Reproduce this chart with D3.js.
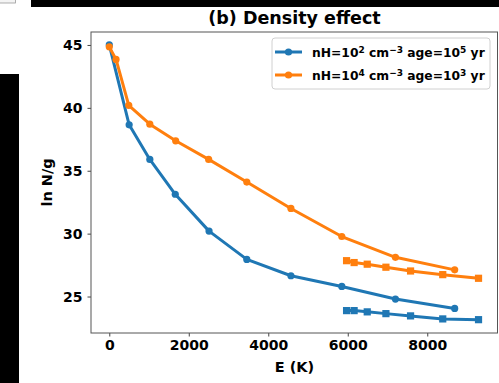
<!DOCTYPE html>
<html>
<head>
<meta charset="utf-8">
<script src="https://cdn.jsdelivr.net/npm/d3@7"></script>
<style>
  body { margin: 0; background: #fff; }
  svg { display: block; font-family: "DejaVu Sans", sans-serif; }
</style>
</head>
<body>
<div id="chart"></div>
<script>
// Blue series: nH=1e2, age=1e5
const lowDensityE = [0, 500, 1020, 1660, 2510, 3460, 4570, 5850, 7200, 8690];
const lowDensityN = [45.0, 38.65, 35.9, 33.13, 30.2, 27.95, 26.65, 25.8, 24.8, 24.05];
const lowDensitySqE = [5970, 6160, 6490, 6960, 7580, 8390, 9290];
const lowDensitySqN = [23.88, 23.88, 23.78, 23.64, 23.46, 23.22, 23.16];

// Orange series: nH=1e4, age=1e3
const highDensityE = [0, 170, 490, 1020, 1670, 2500, 3460, 4570, 5850, 7200, 8690];
const highDensityN = [44.85, 43.85, 40.2, 38.7, 37.38, 35.9, 34.1, 32.0, 29.77, 28.12, 27.12];
const highDensitySqE = [5970, 6160, 6490, 6960, 7580, 8390, 9290];
const highDensitySqN = [27.85, 27.7, 27.57, 27.33, 27.03, 26.74, 26.45];

const xTicks = [0, 2000, 4000, 6000, 8000];
const yTicks = [25, 30, 35, 40, 45];

const blue = '#1f77b4';
const orange = '#ff7f0e';

const width = 499, height = 383;
const margin = { top: 32, right: 1, bottom: 50, left: 91 };

const svg = d3.select('#chart').append('svg')
    .attr('width', width)
    .attr('height', height);

// Decorations around the figure (cropped screenshot artefacts)
svg.append('rect').attr('x', 31).attr('y', 0).attr('width', 468).attr('height', 7).attr('fill', '#000');
svg.append('rect').attr('x', 0).attr('y', 74).attr('width', 19).attr('height', 309).attr('fill', '#000');
svg.append('rect').attr('x', -1).attr('y', -1).attr('width', 16.5).attr('height', 4)
    .attr('fill', '#f4f4f4').attr('stroke', '#999').attr('stroke-width', 0.8);

const x = d3.scaleLinear()
    .domain([-460, 9780])
    .range([margin.left, width - margin.right]);
const y = d3.scaleLinear()
    .domain([22.1, 46.03])
    .range([height - margin.bottom, margin.top]);

const plot = svg.append('g');

// Axes
const xAxis = svg.append('g')
    .attr('transform', `translate(0, ${height - margin.bottom})`)
    .call(d3.axisBottom(x).tickValues(xTicks).tickSize(3.5).tickPadding(4).tickFormat(d3.format('d')));
const yAxis = svg.append('g')
    .attr('transform', `translate(${margin.left}, 0)`)
    .call(d3.axisLeft(y).tickValues(yTicks).tickSize(3.5).tickPadding(5).tickFormat(d3.format('d')));

[xAxis, yAxis].forEach(a => {
    a.select('.domain').remove();
    a.selectAll('.tick line').attr('stroke', '#444').attr('stroke-width', 1);
    a.selectAll('.tick text')
        .attr('fill', '#000')
        .style('font-size', '14px')
        .style('font-weight', 'bold')
        .style('font-family', '"DejaVu Sans", sans-serif');
});

// Frame
svg.append('rect')
    .attr('x', margin.left)
    .attr('y', margin.top)
    .attr('width', width - margin.left - margin.right - 0.5)
    .attr('height', height - margin.top - margin.bottom)
    .attr('fill', 'none')
    .attr('stroke', '#555')
    .attr('stroke-width', 1);

// Series
const line = d3.line().x(d => x(d[0])).y(d => y(d[1]));
const series = [
    { e: lowDensityE, n: lowDensityN, color: blue, marker: 'circle' },
    { e: highDensityE, n: highDensityN, color: orange, marker: 'circle' },
    { e: lowDensitySqE, n: lowDensitySqN, color: blue, marker: 'square' },
    { e: highDensitySqE, n: highDensitySqN, color: orange, marker: 'square' }
];

series.forEach(s => {
    const pts = s.e.map((e, i) => [e, s.n[i]]);
    plot.append('path')
        .attr('d', line(pts))
        .attr('fill', 'none')
        .attr('stroke', s.color)
        .attr('stroke-width', 3)
        .attr('stroke-linejoin', 'round');
    if (s.marker === 'circle') {
        plot.selectAll(null).data(pts).enter().append('circle')
            .attr('cx', d => x(d[0]))
            .attr('cy', d => y(d[1]))
            .attr('r', 3.6)
            .attr('fill', s.color);
    } else {
        plot.selectAll(null).data(pts).enter().append('rect')
            .attr('x', d => x(d[0]) - 3.6)
            .attr('y', d => y(d[1]) - 3.6)
            .attr('width', 7.2)
            .attr('height', 7.2)
            .attr('fill', s.color);
    }
});

// Title and axis labels
svg.append('text')
    .attr('x', (margin.left + width - margin.right) / 2)
    .attr('y', 24)
    .attr('text-anchor', 'middle')
    .style('font-size', '17.5px')
    .style('font-weight', 'bold')
    .text('(b) Density effect');

svg.append('text')
    .attr('x', (margin.left + width - margin.right) / 2)
    .attr('y', 372)
    .attr('text-anchor', 'middle')
    .style('font-size', '14.5px')
    .style('font-weight', 'bold')
    .text('E (K)');

svg.append('text')
    .attr('transform', `translate(52, ${(margin.top + height - margin.bottom) / 2}) rotate(-90)`)
    .attr('text-anchor', 'middle')
    .style('font-size', '14.5px')
    .style('font-weight', 'bold')
    .text('ln N/g');

// Legend
const legend = svg.append('g');
legend.append('rect')
    .attr('x', 272).attr('y', 38)
    .attr('width', 218).attr('height', 51)
    .attr('rx', 3)
    .attr('fill', 'rgba(255,255,255,0.8)')
    .attr('stroke', '#d0d0d0')
    .attr('stroke-width', 1);

const legendItems = [
    { color: blue, parts: [['nH=10', 0], ['2', 1], [' cm', 0], ['\u22123', 1], [' age=10', 0], ['5', 1], [' yr', 0]] },
    { color: orange, parts: [['nH=10', 0], ['4', 1], [' cm', 0], ['\u22123', 1], [' age=10', 0], ['3', 1], [' yr', 0]] }
];

legendItems.forEach((item, i) => {
    const cy = 52 + i * 23;
    legend.append('line')
        .attr('x1', 275).attr('x2', 302)
        .attr('y1', cy).attr('y2', cy)
        .attr('stroke', item.color).attr('stroke-width', 3);
    legend.append('circle')
        .attr('cx', 288.5).attr('cy', cy).attr('r', 3.6)
        .attr('fill', item.color);
    const t = legend.append('text')
        .attr('x', 312).attr('y', cy + 4.5)
        .style('font-size', '12.3px')
        .style('font-weight', 'bold');
    item.parts.forEach(p => {
        t.append('tspan')
            .attr('baseline-shift', p[1] ? '40%' : '0%')
            .style('font-size', p[1] ? '9px' : '12.3px')
            .text(p[0]);
    });
});
</script>
</body>
</html>
